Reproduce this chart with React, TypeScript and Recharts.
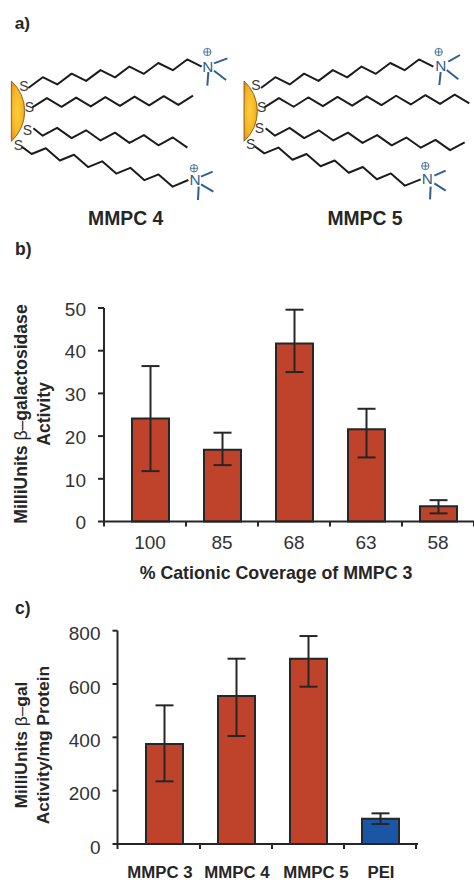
import React from "react";
import { Bar, BarChart, Cell, ErrorBar, Label, XAxis, YAxis } from "recharts";

const FONT = "'Liberation Sans', Arial, sans-serif";
const INK = "#262626";
const RED = "#BF432B";
const BLUE = "#1B55A6";

// panel b
const coverage = ["100", "85", "68", "63", "58"];
const activity = [24.1, 16.8, 41.7, 21.6, 3.6];
const activityHigh = [36.4, 20.8, 49.6, 26.4, 5];
const activityLow = [11.8, 13.2, 35, 15, 1.9];
const activityTicks = [0, 10, 20, 30, 40, 50];

// panel c
const carriers = ["MMPC 3", "MMPC 4", "MMPC 5", "PEI"];
const perProtein = [375, 555, 695, 95];
const perProteinHigh = [520, 695, 780, 115];
const perProteinLow = [235, 405, 590, 75];
const perProteinTicks = [0, 200, 400, 600, 800];
const carrierLabelShift = [-4, 1, 8, 1];

const coverageData = coverage.map((name, i) => ({
  name,
  value: activity[i],
  err: [activity[i] - activityLow[i], activityHigh[i] - activity[i]],
}));
const carrierData = carriers.map((name, i) => ({
  name,
  value: perProtein[i],
  err: [perProtein[i] - perProteinLow[i], perProteinHigh[i] - perProtein[i]],
}));

// tick marks sit between the bars, the label under the bar
function BetweenTick(props: any) {
  const { x, y, payload, index, band, leftGap, bold, fontSize, shifts, labelDy } = props;
  const axisY = y - 8;
  const shift = shifts ? shifts[index] : 0;
  return (
    <g>
      {index === 0 && (
        <line x1={x - band / 2 - leftGap} x2={x - band / 2 - leftGap} y1={axisY} y2={axisY + 5} stroke={INK} strokeWidth={2} />
      )}
      <line x1={x + band / 2} x2={x + band / 2} y1={axisY} y2={axisY + 5} stroke={INK} strokeWidth={2} />
      <text
        x={x + shift}
        y={axisY + labelDy}
        textAnchor="middle"
        fontFamily={FONT}
        fontSize={fontSize}
        fontWeight={bold ? 700 : 400}
        fill={bold ? INK : "#333"}
      >
        {payload.value}
      </text>
    </g>
  );
}

function YTitle({ lines, cy, size }: { lines: [number, React.ReactNode][]; cy: number; size: number }) {
  return (
    <g>
      {lines.map(([x, content], i) => (
        <text
          key={i}
          transform={`translate(${x},${cy}) rotate(-90)`}
          textAnchor="middle"
          dominantBaseline="central"
          fontFamily={FONT}
          fontSize={size}
          fontWeight={700}
          fill={INK}
        >
          {content}
        </text>
      ))}
    </g>
  );
}

const beta = <tspan fontWeight={400}>β–</tspan>;

// ---- panel a, drawn in 3x units ----
function zigzag(x0: number, y0: number, x1: number, y1: number, n: number, before: number[][] = [], after: number[][] = []) {
  const pts = [...before];
  for (let i = 0; i <= n; i++) {
    pts.push([x0 + ((x1 - x0) * i) / n, y0 + ((y1 - y0) * i) / n - (i % 2 ? 27 : 0)]);
  }
  pts.push(...after);
  return pts.map((p) => p.join(",")).join(" ");
}

function Ammonium({ x, y, px, py, bonds }: { x: number; y: number; px: number; py: number; bonds: number[][] }) {
  return (
    <g>
      <text x={x} y={y + 16} textAnchor="middle" fontFamily={FONT} fontSize={46} fill="#2F6090">N</text>
      <circle cx={px} cy={py} r={11} fill="none" stroke="#2F6090" strokeWidth={2.5} />
      <path d={`M${px - 11} ${py}H${px + 11}M${px} ${py - 11}V${py + 11}`} stroke="#2F6090" strokeWidth={2.5} />
      {bonds.map((b, i) => (
        <line key={i} x1={b[0]} y1={b[1]} x2={b[2]} y2={b[3]} stroke="#2F6090" strokeWidth={6} />
      ))}
    </g>
  );
}

function Sulfur({ x, y }: { x: number; y: number }) {
  return <text x={x} y={y + 15} textAnchor="middle" fontFamily={FONT} fontSize={42} fill="#3a3a3a">S</text>;
}

function Particle({ dx }: { dx: number }) {
  return (
    <path
      d={`M${34 + dx} 243 A122 122 0 0 1 ${34 + dx} 424 Z`}
      fill="url(#gold)"
      stroke="#7a5518"
      strokeWidth={2.5}
    />
  );
}

function Chain({ points }: { points: string }) {
  return <polyline points={points} fill="none" stroke="#1c1c1c" strokeWidth={6} strokeLinejoin="round" />;
}

function Nanoparticles() {
  return (
    <svg width={474} height={240} viewBox="0 0 1422 720" style={{ position: "absolute", left: 0, top: 0 }}>
      <defs>
        <radialGradient id="gold" cx="0.45" cy="0.5" r="0.6">
          <stop offset="0%" stopColor="#FBCF3A" />
          <stop offset="60%" stopColor="#F6B828" />
          <stop offset="100%" stopColor="#E98E1C" />
        </radialGradient>
      </defs>
      <text x={44} y={86} fontFamily={FONT} fontSize={52} fontWeight={700} fill={INK}>a)</text>

      <Particle dx={0} />
      <Chain points={zigzag(85, 264, 605, 200, 12)} />
      <Chain points={zigzag(97, 322, 579, 314, 11)} />
      <Chain points={zigzag(128, 407, 562, 443, 10, [[100, 385]])} />
      <Chain points={zigzag(95, 462, 518, 560, 10, [[65, 440]], [[565, 540]])} />
      <Sulfur x={72} y={258} />
      <Sulfur x={88} y={322} />
      <Sulfur x={82} y={390} />
      <Sulfur x={55} y={435} />
      <Ammonium x={623} y={200} px={622} py={156} bonds={[[642, 190, 682, 175], [642, 212, 678, 240], [625, 216, 622, 257]]} />
      <Ammonium x={585} y={540} px={582} py={505} bonds={[[603, 530, 638, 515], [603, 553, 640, 575], [596, 560, 594, 600]]} />
      <text x={377} y={675} textAnchor="middle" fontFamily={FONT} fontSize={58} fontWeight={700} fill={INK}>MMPC 4</text>

      <Particle dx={698} />
      <Chain points={zigzag(783, 264, 1300, 200, 12)} />
      <Chain points={zigzag(793, 322, 1408, 310, 14)} />
      <Chain points={zigzag(825, 407, 1394, 454, 13, [[797, 385]])} />
      <Chain points={zigzag(793, 460, 1215, 557, 10, [[763, 438]], [[1262, 538]])} />
      <Sulfur x={768} y={255} />
      <Sulfur x={785} y={320} />
      <Sulfur x={778} y={385} />
      <Sulfur x={752} y={432} />
      <Ammonium x={1322} y={197} px={1316} py={156} bonds={[[1345, 185, 1380, 165], [1340, 210, 1375, 238], [1322, 216, 1318, 255]]} />
      <Ammonium x={1282} y={537} px={1276} py={498} bonds={[[1303, 527, 1337, 512], [1303, 550, 1337, 572], [1292, 560, 1290, 598]]} />
      <text x={1095} y={675} textAnchor="middle" fontFamily={FONT} fontSize={58} fontWeight={700} fill={INK}>MMPC 5</text>
    </svg>
  );
}

const panelLetter: React.CSSProperties = {
  position: "absolute",
  left: 15,
  fontFamily: FONT,
  fontSize: 17.5,
  fontWeight: 700,
  color: INK,
  lineHeight: "20px",
};

export default function App() {
  return (
    <div style={{ position: "absolute", left: 0, top: 0, width: 474, height: 882, background: "#fff", overflow: "hidden" }}>
      <Nanoparticles />

      <div style={{ ...panelLetter, top: 239 }}>b)</div>
      <div style={{ position: "absolute", left: 0, top: 290 }}>
        <BarChart width={474} height={300} data={coverageData} margin={{ top: 18, right: 0, bottom: 10, left: 0 }} barSize={37}>
          <XAxis
            dataKey="name"
            height={58.5}
            interval={0}
            padding={{ left: 10, right: 0 }}
            axisLine={{ stroke: INK, strokeWidth: 2 }}
            tickLine={false}
            tickSize={6}
            tickMargin={2}
            tick={<BetweenTick band={72} leftGap={10} fontSize={19} labelDy={27} />}
          >
            <Label value="% Cationic Coverage of MMPC 3" position="insideBottom" offset={1} dx={-13} fontFamily={FONT} fontSize={17.8} fontWeight={700} fill={INK} />
          </XAxis>
          <YAxis
            width={104}
            domain={[0, 50]}
            ticks={activityTicks}
            axisLine={{ stroke: INK, strokeWidth: 2 }}
            tickLine={{ stroke: INK, strokeWidth: 2 }}
            tickSize={6}
            tickMargin={12}
            tick={{ fontFamily: FONT, fontSize: 19, fill: "#333", dy: 1 }}
          >
            <Label
              content={() => (
                <YTitle
                  size={17.6}
                  cy={124}
                  lines={[
                    [21, <>MilliUnits {beta}galactosidase</>],
                    [44, "Activity"],
                  ]}
                />
              )}
            />
          </YAxis>
          <Bar dataKey="value" fill={RED} stroke={INK} strokeWidth={2} isAnimationActive={false}>
            <ErrorBar dataKey="err" direction="y" width={9} stroke={INK} strokeWidth={2} isAnimationActive={false} />
          </Bar>
        </BarChart>
      </div>

      <div style={{ ...panelLetter, top: 598 }}>c)</div>
      <div style={{ position: "absolute", left: 0, top: 610 }}>
        <BarChart width={474} height={272} data={carrierData} margin={{ top: 20.7, right: 56, bottom: 0, left: 0 }} barSize={37}>
          <XAxis
            dataKey="name"
            height={38}
            interval={0}
            padding={{ left: 10.5, right: 2 }}
            axisLine={{ stroke: INK, strokeWidth: 2 }}
            tickLine={false}
            tickSize={6}
            tickMargin={2}
            tick={<BetweenTick band={72} leftGap={10.5} fontSize={16.8} labelDy={34} bold shifts={carrierLabelShift} />}
          />
          <YAxis
            width={117.5}
            domain={[0, 800]}
            ticks={perProteinTicks}
            axisLine={{ stroke: INK, strokeWidth: 2 }}
            tickLine={{ stroke: INK, strokeWidth: 2 }}
            tickSize={5}
            tickMargin={12}
            tick={{ fontFamily: FONT, fontSize: 19, fill: "#333", dy: 3 }}
          >
            <Label
              content={() => (
                <YTitle
                  size={17.4}
                  cy={135}
                  lines={[
                    [21, <>MilliUnits {beta}gal</>],
                    [43, "Activity/mg Protein"],
                  ]}
                />
              )}
            />
          </YAxis>
          <Bar dataKey="value" stroke={INK} strokeWidth={2} isAnimationActive={false}>
            {carrierData.map((d) => (
              <Cell key={d.name} fill={d.name === "PEI" ? BLUE : RED} />
            ))}
            <ErrorBar dataKey="err" direction="y" width={9} stroke={INK} strokeWidth={2} isAnimationActive={false} />
          </Bar>
        </BarChart>
      </div>
    </div>
  );
}
